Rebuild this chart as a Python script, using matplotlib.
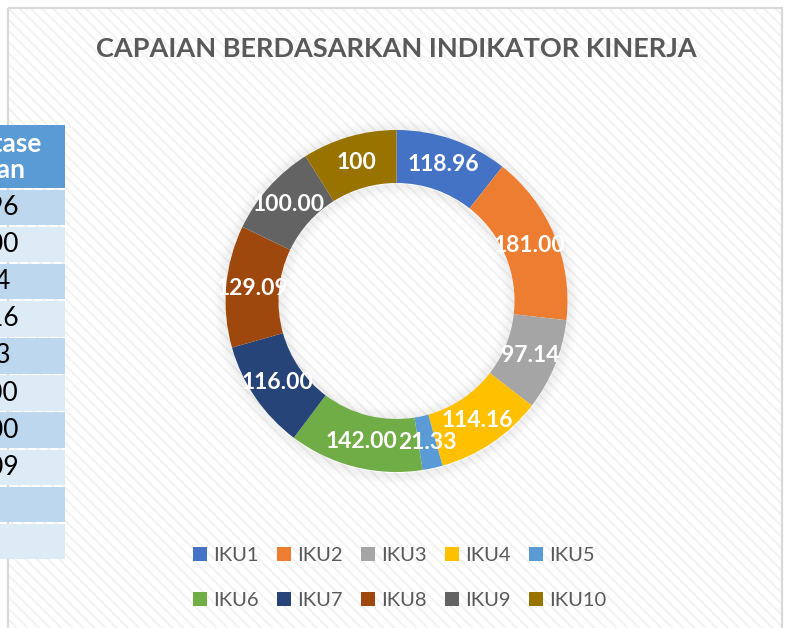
import matplotlib
matplotlib.use("Agg")
import matplotlib.pyplot as plt
from matplotlib.patches import Rectangle, Wedge, Patch
import numpy as np

# ---------------- data ----------------
title = "CAPAIAN BERDASARKAN INDIKATOR KINERJA"
categories = ["IKU1", "IKU2", "IKU3", "IKU4", "IKU5",
              "IKU6", "IKU7", "IKU8", "IKU9", "IKU10"]
values = [118.96, 181.00, 97.14, 114.16, 21.33, 142.00, 116.00, 129.09, 100.00, 100]
value_labels = ["118.96", "181.00", "97.14", "114.16", "21.33",
                "142.00", "116.00", "129.09", "100.00", "100"]
colors = ["#4472C4", "#ED7D31", "#A5A5A5", "#FFC000", "#5B9BD5",
          "#70AD47", "#264478", "#9E480E", "#636363", "#997300"]
table_header = "Persentase\nCapaian"
table_values = ["118.96", "181.00", "97.14", "114.16", "21.33",
                "142.00", "116.00", "129.09", "100", "100"]

plt.rcParams['font.family'] = ['Lato', 'DejaVu Sans']
plt.rcParams['hatch.linewidth'] = 1.4

W, H = 785, 628
fig = plt.figure(figsize=(W / 100, H / 100), dpi=100)
fig.patch.set_facecolor('white')

bg = fig.add_axes([0, 0, 1, 1])
bg.set_xlim(0, W)
bg.set_ylim(H, 0)
bg.axis('off')

# chart area with light diagonal texture
bg.add_patch(Rectangle((8, 8), 774, 650, facecolor='white', edgecolor='#f2f2f2',
                       hatch='\\\\\\', linewidth=0, zorder=0))
bg.add_patch(Rectangle((8, 8), 774, 650, facecolor='none', edgecolor='#d9d9d9',
                       linewidth=1.6, zorder=1))

# title
bg.text(396, 49, title, ha='center', va='center', fontsize=19.5,
        fontweight='bold', color='#595959', zorder=3)

# ---------------- table (cut off at left edge) ----------------
fs_tab = 19
tmp = bg.text(0, 0, table_values[0], fontsize=fs_tab)
fig.canvas.draw()
wpx = tmp.get_window_extent().width
tmp.remove()
cx_tab = 19 - wpx / 2

bg.add_patch(Rectangle((-150, 125), 215, 63, facecolor='#5B9BD5', edgecolor='none', zorder=5))
bg.text(cx_tab, 157, table_header, ha='center', va='center', multialignment='center',
        fontsize=fs_tab, fontweight='bold', color='white', linespacing=1.15, zorder=6)
row_top, row_pitch, row_h = 189.5, 37.15, 35.6
for i, s in enumerate(table_values):
    top = row_top + i * row_pitch
    fc = '#BDD7EE' if i % 2 == 0 else '#DDEBF7'
    bg.add_patch(Rectangle((-150, top), 215, row_h, facecolor=fc, edgecolor='none', zorder=5))
    bg.text(cx_tab, top + row_h / 2, s, ha='center', va='center',
            fontsize=fs_tab, color='black', zorder=6)

# ---------------- donut ----------------
cx, cy, R = 396.5, 301, 171
pad = 1.2
ax = fig.add_axes([(cx - R * pad) / W, (H - cy - R * pad) / H,
                   2 * R * pad / W, 2 * R * pad / H])
ax.patch.set_alpha(0)

ring_w = 0.31
# soft shadow
d = 1.0 / R
n = 18
for k in range(n):
    a = 0.06 * np.exp(-(k / 8.0) ** 2)
    ax.add_patch(Wedge((0, -0.006), 1 + (k + 1) * d, 0, 360, width=d,
                       facecolor='black', edgecolor='none', alpha=a, zorder=0))
    ax.add_patch(Wedge((0, -0.006), 1 - ring_w - k * d, 0, 360, width=d,
                       facecolor='black', edgecolor='none', alpha=a, zorder=0))

wedges, _ = ax.pie(values, colors=colors, startangle=90, counterclock=False,
                   radius=1, wedgeprops=dict(width=ring_w, linewidth=0))
for w in wedges:
    w.set_zorder(2)
ax.set_xlim(-pad, pad)
ax.set_ylim(-pad, pad)
ax.axis('off')

rl = 1 - ring_w / 2
for w, lab in zip(wedges, value_labels):
    ang = np.deg2rad((w.theta1 + w.theta2) / 2)
    ax.text(rl * np.cos(ang), rl * np.sin(ang), lab, ha='center', va='center',
            color='white', fontweight='bold', fontsize=16.5, zorder=4)

# ---------------- legend (row-wise order) ----------------
order = [i + 5 * r for i in range(5) for r in range(2)]
handles = [Patch(facecolor=colors[j], edgecolor='none') for j in order]
labels = [categories[j] for j in order]
fig.legend(handles, labels, ncol=5, loc='upper left',
           bbox_to_anchor=(193 / W, 1 - 547 / H), frameon=False,
           prop={'size': 14.5}, labelcolor='#595959',
           handlelength=0.7, handleheight=0.7, handletextpad=0.3,
           columnspacing=0.9, labelspacing=1.38, borderpad=0, borderaxespad=0)

fig.savefig('out.png', dpi=100, facecolor='white')
